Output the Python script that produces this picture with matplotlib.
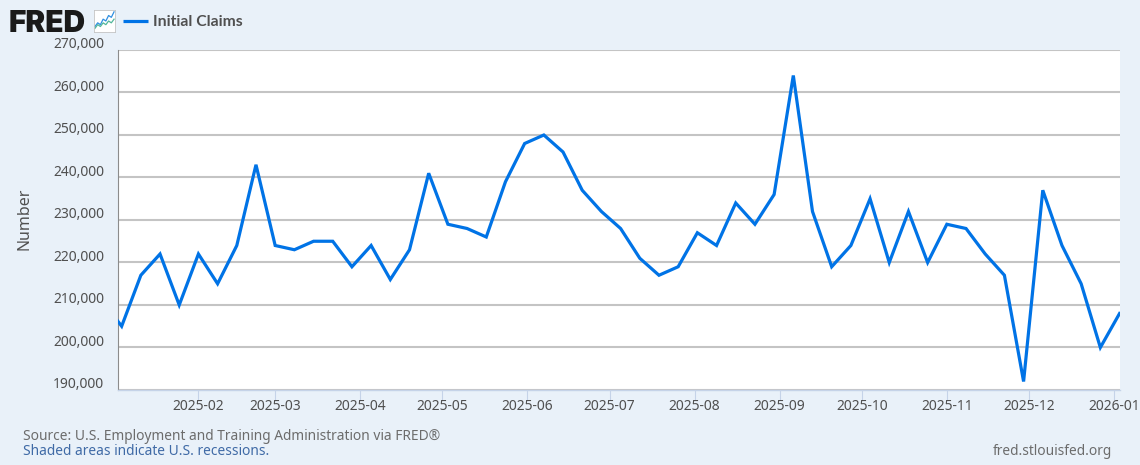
import matplotlib
matplotlib.use('Agg')
import matplotlib.pyplot as plt
import matplotlib.dates as mdates
from matplotlib.transforms import ScaledTranslation
import pandas as pd

plt.rcParams['font.family'] = ['Noto Sans', 'DejaVu Sans']

###############################################################
# data
###############################################################
weeks = ['2024-12-28', '2025-01-04', '2025-01-11', '2025-01-18', '2025-01-25',
         '2025-02-01', '2025-02-08', '2025-02-15', '2025-02-22',
         '2025-03-01', '2025-03-08', '2025-03-15', '2025-03-22', '2025-03-29',
         '2025-04-05', '2025-04-12', '2025-04-19', '2025-04-26',
         '2025-05-03', '2025-05-10', '2025-05-17', '2025-05-24', '2025-05-31',
         '2025-06-07', '2025-06-14', '2025-06-21', '2025-06-28',
         '2025-07-05', '2025-07-12', '2025-07-19', '2025-07-26',
         '2025-08-02', '2025-08-09', '2025-08-16', '2025-08-23', '2025-08-30',
         '2025-09-06', '2025-09-13', '2025-09-20', '2025-09-27',
         '2025-10-04', '2025-10-11', '2025-10-18', '2025-10-25',
         '2025-11-01', '2025-11-08', '2025-11-15', '2025-11-22', '2025-11-29',
         '2025-12-06', '2025-12-13', '2025-12-20', '2025-12-27', '2026-01-03']
claims = [211000, 205000, 217000, 222000, 210000,
          222000, 215000, 224000, 243000,
          224000, 223000, 225000, 225000, 219000,
          224000, 216000, 223000, 241000,
          229000, 228000, 226000, 239000, 248000,
          250000, 246000, 237000, 232000,
          228000, 221000, 217000, 219000,
          227000, 224000, 234000, 229000, 236000,
          264000, 232000, 219000, 224000,
          235000, 220000, 232000, 220000,
          229000, 228000, 222000, 217000, 192000,
          237000, 224000, 215000, 200000, 208000]
month_ticks = ['2025-02-01', '2025-03-01', '2025-04-01', '2025-05-01', '2025-06-01',
               '2025-07-01', '2025-08-01', '2025-09-01', '2025-10-01', '2025-11-01',
               '2025-12-01', '2026-01-01']
y_ticks = [190000, 200000, 210000, 220000, 230000, 240000, 250000, 260000, 270000]
icon_blue = [1, 3, 2, 5, 4, 7, 6, 9]
icon_green = [0, 2, 1, 3, 2, 4, 3, 5]

bg_color = '#e9f1f9'
line_color = '#0073e6'
grid_color = '#c4c4c4'
text_color = '#505050'

###############################################################
# figure
###############################################################
fig = plt.figure(figsize=(11.4, 4.65), dpi=100, facecolor=bg_color)
ax = fig.add_axes([118 / 1140, 1 - 390 / 465, (1120 - 118) / 1140, 340 / 465])
ax.set_facecolor('white')

dates = pd.to_datetime(weeks)
ax.plot(dates, claims, color=line_color, linewidth=2.3, solid_joinstyle='miter', zorder=3)

ax.set_xlim(pd.Timestamp('2025-01-02 16:00'), pd.Timestamp('2026-01-03 04:00'))
ax.set_ylim(190000, 270000)

ax.set_xticks(pd.to_datetime(month_ticks))
ax.xaxis.set_major_formatter(mdates.DateFormatter('%Y-%m'))
ax.tick_params(axis='x', length=7.5, width=0.8, color='#c5d3e8', labelcolor=text_color,
               labelsize=10, pad=-1)

ax.set_yticks(y_ticks)
ax.set_yticklabels([f'{v:,}' for v in y_ticks])
ax.tick_params(axis='y', length=0, labelcolor=text_color, labelsize=10, pad=10)
offset = ScaledTranslation(0, -1.7 / 72, fig.dpi_scale_trans)
for label in ax.get_yticklabels():
    label.set_verticalalignment('bottom')
    label.set_transform(label.get_transform() + offset)

ax.grid(axis='y', color=grid_color, linewidth=1.5, zorder=1)
ax.set_axisbelow(True)

for side in ['top', 'right']:
    ax.spines[side].set_visible(False)
ax.spines['left'].set_color('#8c8c8c')
ax.spines['left'].set_linewidth(0.8)
ax.spines['bottom'].set_color('#c5d3e8')
ax.spines['bottom'].set_linewidth(1.0)

fig.text(25 / 1140, 1 - 219 / 465, 'Number', rotation=90, ha='center', va='center',
         color=text_color, fontsize=11.5)

###############################################################
# header
###############################################################
fig.text(9 / 1140, 1 - 32 / 465, 'FRED', family=['Inter', 'DejaVu Sans'], weight='black',
         fontsize=21.5, color='#1a1a1a', ha='left', va='baseline')

icon = fig.add_axes([94 / 1140, 1 - 32 / 465, 21 / 1140, 22 / 465])
icon.set_facecolor('white')
icon.plot(icon_blue, color='#2f8fe0', linewidth=0.9)
icon.plot(icon_green, color='#52b79a', linewidth=0.9)
icon.set_xticks([])
icon.set_yticks([])
icon.set_ylim(-2, 10)
for spine in icon.spines.values():
    spine.set_color('#c4c4c4')
    spine.set_linewidth(0.6)

fig.add_artist(plt.Line2D([123 / 1140, 148 / 1140], [1 - 21.5 / 465, 1 - 21.5 / 465],
                          color=line_color, linewidth=2.3, solid_capstyle='butt'))
fig.text(153 / 1140, 1 - 21.5 / 465, 'Initial Claims', family=['Lato', 'DejaVu Sans'],
         weight='bold', color=text_color, fontsize=11.3, ha='left', va='center')

###############################################################
# footer
###############################################################
fig.text(23 / 1140, 1 - 436 / 465, 'Source: U.S. Employment and Training Administration via FRED\u00ae',
         color='#6c6c6c', fontsize=9.9, ha='left', va='center')
fig.text(23 / 1140, 1 - 451.5 / 465, 'Shaded areas indicate U.S. recessions.',
         color='#3f6aa6', fontsize=9.9, ha='left', va='center')
fig.text(1112 / 1140, 1 - 451.5 / 465, 'fred.stlouisfed.org',
         color='#6c6c6c', fontsize=9.9, ha='right', va='center')

plt.savefig('out.png', dpi=100, facecolor=bg_color)
